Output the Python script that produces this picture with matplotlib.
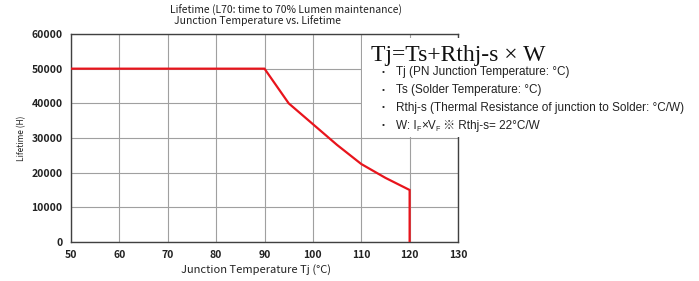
import matplotlib
matplotlib.use("Agg")
import matplotlib.pyplot as plt
from matplotlib.patches import Rectangle

temps = [50, 90, 95, 100, 105, 110, 115, 120, 120]
lifetime = [50000, 50000, 40000, 34000, 28000, 22500, 18500, 15000, 0]
xticks = [50, 60, 70, 80, 90, 100, 110, 120, 130]
yticks = [0, 10000, 20000, 30000, 40000, 50000, 60000]

W, H = 699, 281
fig = plt.figure(figsize=(W / 100, H / 100), dpi=100)
ax = fig.add_axes([71 / W, 1 - 242 / H, (458 - 71) / W, (242 - 34) / H])

jp = ['Noto Sans CJK JP', 'DejaVu Sans']
ax.plot(temps, lifetime, color='#e8141c', lw=1.6, zorder=3, solid_joinstyle='miter')
ax.set_xlim(50, 130)
ax.set_ylim(0, 60000)
ax.set_xticks(xticks)
ax.set_yticks(yticks)
ax.grid(True, color='#a0a0a0', lw=0.8)
ax.set_axisbelow(True)
for s in ax.spines.values():
    s.set_color('#404040')
    s.set_linewidth(1.0)
ax.tick_params(length=0, pad=6, labelsize=7.5, colors='#222222')
for lab in ax.get_xticklabels() + ax.get_yticklabels():
    lab.set_family(jp)
    lab.set_fontweight('bold')
ax.set_xlabel('Junction Temperature Tj (\u00b0C)', family=jp, fontsize=8, labelpad=1, color='#222222')
ax.xaxis.set_label_coords((256 - 71) / (458 - 71), -0.105)
ax.set_ylabel('Lifetime (H)', family=jp, fontsize=6, labelpad=4, color='#222222')

fig.text(170 / W, 1 - 10 / H, 'Lifetime (L70: time to 70% Lumen maintenance)', family=jp,
         fontsize=7.5, va='center', ha='left', color='#222222')
fig.text(174 / W, 1 - 21 / H, 'Junction Temperature vs. Lifetime', family=jp,
         fontsize=7.5, va='center', ha='left', color='#222222')

# white box with formula
fig.add_artist(Rectangle((362 / W, 1 - 137 / H), (699 - 362) / W, (137 - 38) / H,
                         transform=fig.transFigure, facecolor='white', edgecolor='none', zorder=5))
fig.text(371 / W, 1 - 55 / H, 'Tj=Ts+Rthj-s \u00d7 W', family=['Liberation Serif'], fontsize=17,
         va='center', ha='left', color='#111111', zorder=6)
sans = ['Liberation Sans', 'Noto Sans CJK JP']
fs = 8.5
lines_y = [72, 90, 107.5, 126]
texts = ['Tj (PN Junction Temperature: \u00b0C)',
         'Ts (Solder Temperature: \u00b0C)',
         'Rthj-s (Thermal Resistance of junction to Solder: \u00b0C/W)']
for yy in lines_y:
    fig.text(383 / W, 1 - yy / H, '\u2022', family=sans, fontsize=6, va='center', ha='center',
             color='#222222', zorder=6)
for yy, t in zip(lines_y, texts):
    fig.text(396 / W, 1 - yy / H, t, family=sans, fontsize=fs, va='center', ha='left',
             color='#222222', zorder=6)

# last line built piece by piece (subscripts)
renderer = fig.canvas.get_renderer()
pieces = [('W: I', fs, 0), ('F', fs * 0.6, 2), ('\u00d7V', fs, 0), ('F', fs * 0.6, 2),
          (' \u203b Rthj-s= 22\u00b0C/W', fs, 0)]
xpix = 396
ybase = 1 - 129 / H
for txt, size, drop in pieces:
    t = fig.text(xpix / W, ybase - drop / H, txt, family=sans, fontsize=size, va='baseline',
                 ha='left', color='#222222', zorder=6)
    bb = t.get_window_extent(renderer=renderer)
    xpix += bb.width

fig.savefig('out.png', dpi=100)
